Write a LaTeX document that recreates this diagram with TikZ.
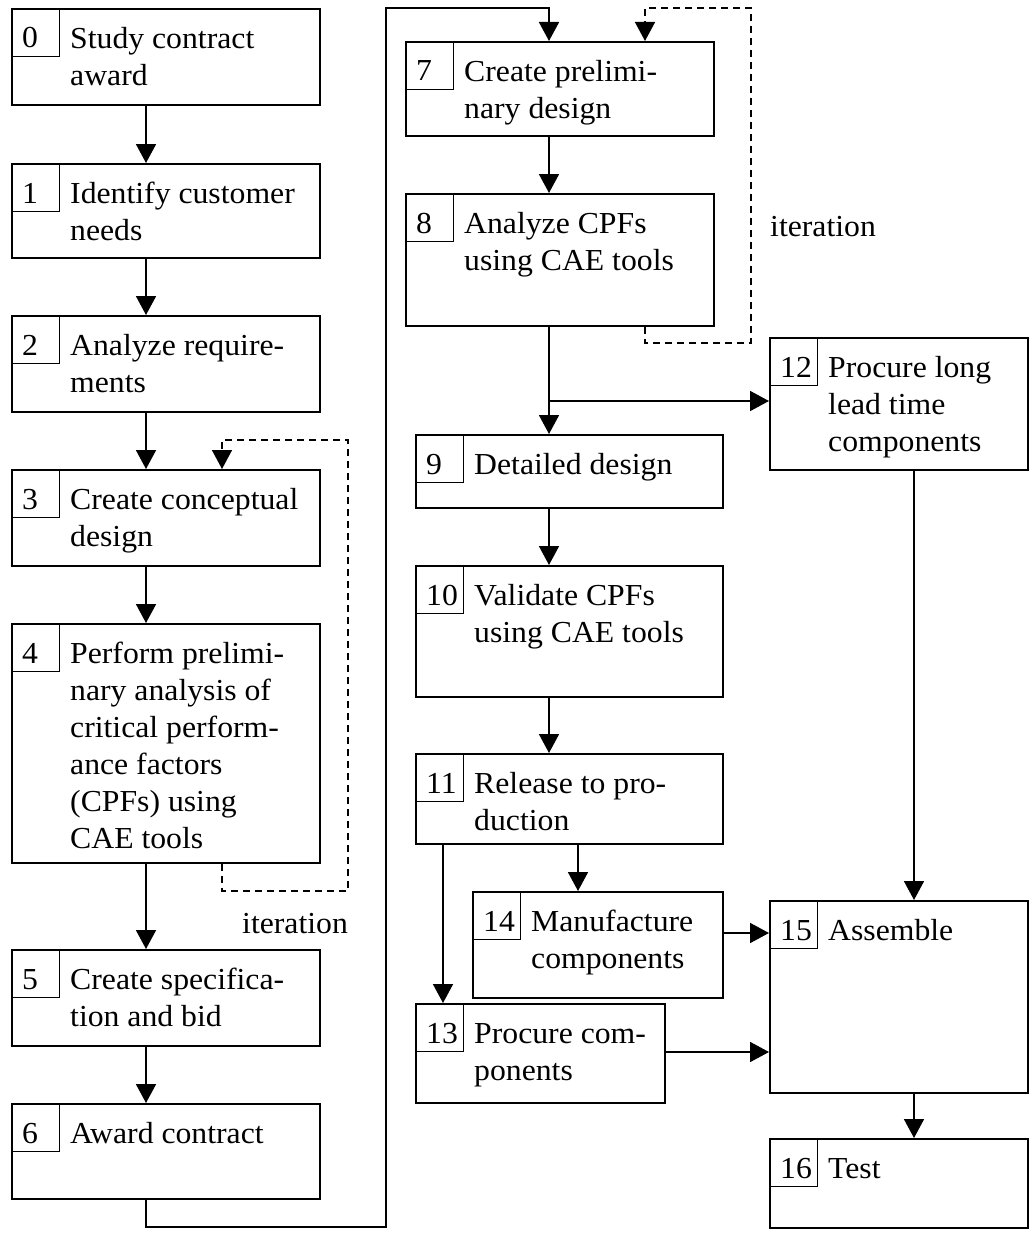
\documentclass[tikz,border=0pt]{standalone}
\usepackage{fontspec}
\setmainfont{Liberation Serif}[FakeStretch=1.04]
\usetikzlibrary{arrows.meta}
\tikzset{
  pbox/.style={draw, line width=1.8pt, inner sep=0pt, rectangle},
  nbox/.style={draw, line width=1.4pt, inner sep=0pt, minimum width=48pt, minimum height=48pt, rectangle},
  ntxt/.style={font=\fontsize{30.5}{37}\selectfont, inner sep=0pt},
  btxt/.style={font=\fontsize{30.5}{37}\selectfont, align=left, inner sep=0pt},
  arr/.style={-{Triangle[length=19pt,width=20pt]}, line width=1.8pt},
  darr/.style={-{Triangle[length=19pt,width=20pt]}, line width=1.5pt, dash pattern=on 7pt off 5pt},
  itlabel/.style={font=\fontsize{30.5}{37}\selectfont, inner sep=0pt}
}
\newcommand{\mkbox}[7]{%
  \node[pbox, minimum width={(#5-#3)*1pt}, minimum height={(#6-#4)*1pt}, anchor=north west] (#1) at (#3,-#4) {};
  \node[nbox, anchor=north west] (#1n) at (#3,-#4) {};
  \node[ntxt, anchor=base west] (#1d) at ({#3+11},{-#4-40}) {#2};
  \node[btxt, anchor=north west] (#1t) at ({#3+59},{-#4-10}) {\rule{0pt}{30pt}#7};
}
\begin{document}
\begin{tikzpicture}[x=1pt,y=1pt]
\useasboundingbox (0,0) rectangle (1029,-1236);
% left column
\mkbox{b0}{0}{11}{8}{319}{104}{Study contract\\award}
\mkbox{b1}{1}{11}{163}{319}{257}{Identify customer\\needs}
\mkbox{b2}{2}{11}{315}{319}{411}{Analyze require-\\ments}
\mkbox{b3}{3}{11}{469}{319}{565}{Create conceptual\\design}
\mkbox{b4}{4}{11}{623}{319}{862}{Perform prelimi-\\nary analysis of\\critical perform-\\ance factors\\(CPFs) using\\CAE tools}
\mkbox{b5}{5}{11}{949}{319}{1045}{Create specifica-\\tion and bid}
\mkbox{b6}{6}{11}{1103}{319}{1198}{Award contract}
% middle column
\mkbox{b7}{7}{405}{41}{713}{135}{Create prelimi-\\nary design}
\mkbox{b8}{8}{405}{193}{713}{325}{Analyze CPFs\\using CAE tools}
\mkbox{b9}{9}{415}{434}{722}{507}{Detailed design}
\mkbox{b10}{10}{415}{565}{722}{696}{Validate CPFs\\using CAE tools}
\mkbox{b11}{11}{415}{753}{722}{843}{Release to pro-\\duction}
\mkbox{b14}{14}{472}{891}{722}{997}{Manufacture\\components}
\mkbox{b13}{13}{415}{1003}{664}{1102}{Procure com-\\ponents}
% right column
\mkbox{b12}{12}{769}{337}{1027}{469}{Procure long\\lead time\\components}
\mkbox{b15}{15}{769}{900}{1027}{1092}{Assemble}
\mkbox{b16}{16}{769}{1138}{1027}{1227}{Test}
% labels
\node[itlabel, anchor=base west] (it1) at (242,-933) {iteration};
\node[itlabel, anchor=base west] (it2) at (770,-236) {iteration};
% helper coordinates
\coordinate (cL) at (146,0);
\coordinate (cM) at (549,0);
\coordinate (cR) at (914,0);
\coordinate (xd1) at (222,0);
\coordinate (xd2) at (645,0);
\coordinate (x11a) at (443,0);
\coordinate (x11b) at (578,0);
\coordinate (d1a) at (348,-891);
\coordinate (d1b) at (348,-440);
\coordinate (d2a) at (751,-343);
\coordinate (d2b) at (751,-8);
\coordinate (k1) at (386,-1227);
\coordinate (k2) at (386,-8);
\coordinate (j812) at (549,-401);
\coordinate (y14) at (0,-933);
\coordinate (y13) at (0,-1052);
% left column arrows
\draw[arr] (b0.south -| cL) -- (b1.north -| cL);
\draw[arr] (b1.south -| cL) -- (b2.north -| cL);
\draw[arr] (b2.south -| cL) -- (b3.north -| cL);
\draw[arr] (b3.south -| cL) -- (b4.north -| cL);
\draw[arr] (b4.south -| cL) -- (b5.north -| cL);
\draw[arr] (b5.south -| cL) -- (b6.north -| cL);
\draw[darr] (b4.south -| xd1) |- (d1a) -- (d1b) -| (b3.north -| xd1);
% 6 to 7
\draw[arr] (b6.south -| cL) |- (k1) -- (k2) -| (b7.north -| cM);
% middle column
\draw[arr] (b7.south -| cM) -- (b8.north -| cM);
\draw[darr] (b8.south -| xd2) |- (d2a) -- (d2b) -| (b7.north -| xd2);
\draw[arr] (b8.south -| cM) -- (b9.north -| cM);
\draw[arr] (j812) -- (b12.west |- j812);
\draw[arr] (b9.south -| cM) -- (b10.north -| cM);
\draw[arr] (b10.south -| cM) -- (b11.north -| cM);
\draw[arr] (b11.south -| x11b) -- (b14.north -| x11b);
\draw[arr] (b11.south -| x11a) -- (b13.north -| x11a);
\draw[arr] (b14.east |- y14) -- (b15.west |- y14);
\draw[arr] (b13.east |- y13) -- (b15.west |- y13);
% right column
\draw[arr] (b12.south -| cR) -- (b15.north -| cR);
\draw[arr] (b15.south -| cR) -- (b16.north -| cR);
\end{tikzpicture}
\end{document}
